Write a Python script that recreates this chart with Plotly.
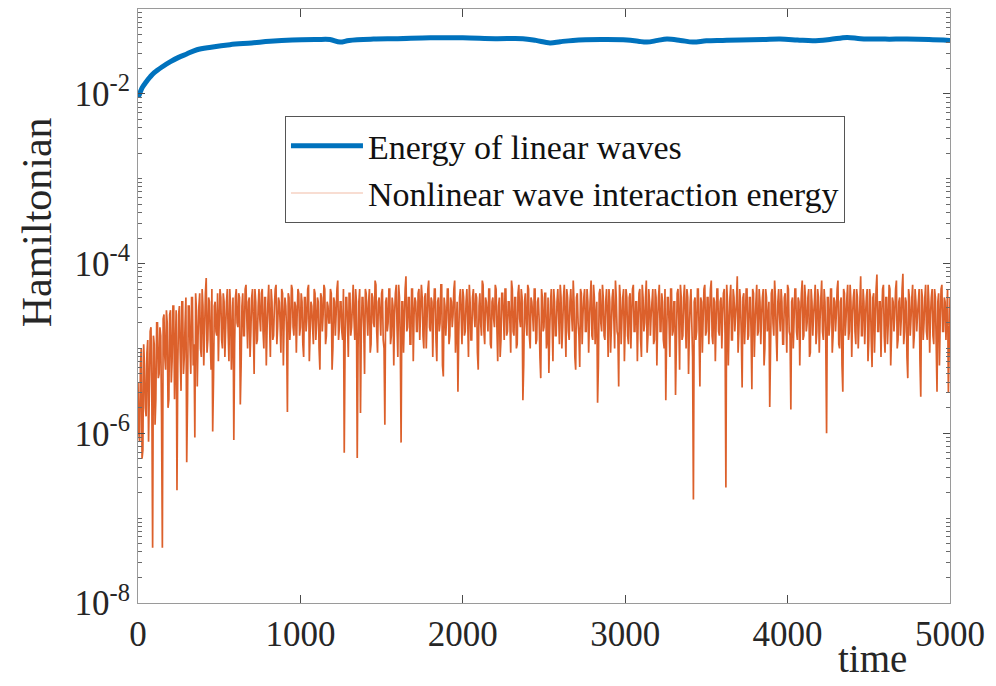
import plotly.graph_objects as go

# ---------------- data ----------------
# Energy of linear waves (blue), time and log10(Hamiltonian)
lin_time = [0, 10, 25, 50, 75, 100, 150, 200, 250, 300, 363, 450, 566, 700, 813, 950,
            1100, 1182, 1244, 1300, 1450, 1600, 1800, 2000, 2200, 2370, 2450, 2537, 2600,
            2678, 2850, 3011, 3080, 3134, 3200, 3257, 3340, 3417, 3500, 3600, 3707, 3850,
            3953, 4060, 4156, 4260, 4366, 4450, 4600, 4735, 4870, 5000]
lin_log = [-2.04, -2.0, -1.93, -1.86, -1.80, -1.75, -1.68, -1.62, -1.57, -1.53, -1.48, -1.45,
           -1.42, -1.40, -1.38, -1.365, -1.36, -1.36, -1.39, -1.37, -1.355, -1.35, -1.34,
           -1.34, -1.35, -1.35, -1.37, -1.40, -1.385, -1.37, -1.36, -1.365, -1.38, -1.39,
           -1.37, -1.355, -1.37, -1.39, -1.375, -1.37, -1.365, -1.36, -1.355, -1.365,
           -1.375, -1.36, -1.335, -1.35, -1.355, -1.355, -1.36, -1.37]

# Nonlinear wave interaction energy (orange), log10 values.
# samples at t = 0, 10, 20, ... 5000
nl_even_t0 = 0
nl_even_dt = 10
nl_even_log = [
    -5.4, -6.1, -5.0, -6.2, -5.2, -5.8, -4.9, -5.5, -4.75, -7.35, -4.95, -5.6, -4.7, -5.3, -4.85, -7.35, -4.6, -5.25, -4.7, -5.6, -4.55, -5.15, -4.5, -5.0, -6.67,
    -4.6, -5.05, -4.45, -5.3, -4.7, -6.34, -4.5, -4.95, -4.4, -5.2, -6.05, -4.55, -4.85, -4.35, -5.1, -4.5, -4.8, -4.17, -4.9, -4.45, -5.25, -5.98, -4.5, -4.8, -4.35,
    -4.7, -4.4, -5.0, -4.45, -4.75, -4.3, -5.15, -4.5, -4.8, -6.08, -4.4, -4.7, -4.35, -5.66, -4.5, -4.85, -4.3, -4.65, -4.45, -5.1, -4.4, -4.7, -4.3, -4.95, -4.5,
    -4.65, -4.35, -4.8, -4.4, -5.2, -4.45, -4.7, -4.3, -4.9, -4.5, -4.25, -4.75, -4.45, -5.05, -4.35, -4.65, -4.5, -5.75, -4.4, -4.7, -4.3, -4.85, -4.5, -4.6, -4.35,
    -4.75, -4.45, -5.1, -4.4, -4.65, -4.25, -4.8, -4.5, -4.95, -4.35, -4.7, -4.45, -5.25, -4.4, -4.6, -4.3, -4.85, -4.5, -4.7, -4.35, -5.0, -4.45, -4.6, -4.2, -4.75,
    -4.45, -4.9, -6.23, -4.4, -4.7, -4.35, -4.85, -4.5, -4.65, -4.3, -6.29, -4.45, -5.76, -4.4, -4.75, -4.3, -4.6, -4.45, -5.05, -4.35, -4.7, -4.2, -4.8, -4.45, -4.6,
    -4.35, -4.9, -5.9, -4.4, -4.7, -4.3, -4.85, -4.5, -4.6, -4.25, -5.1, -4.4, -6.11, -4.45, -4.65, -4.15, -4.75, -4.4, -4.95, -4.3, -4.6, -4.45, -4.8, -4.3, -4.55,
    -4.4, -5.0, -4.35, -4.65, -4.2, -4.8, -4.45, -4.6, -4.3, -5.15, -4.4, -4.7, -4.25, -5.33, -4.5, -4.65, -4.3, -4.85, -4.45, -4.6, -4.2, -4.75, -5.51, -4.4, -4.6,
    -4.3, -4.85, -4.45, -4.65, -4.25, -4.9, -4.4, -4.6, -4.35, -5.05, -4.5, -4.7, -4.2, -4.8, -4.4, -4.6, -4.3, -4.95, -4.45, -4.65, -4.25, -4.75, -4.5, -5.1, -4.35,
    -4.6, -4.3, -4.85, -4.45, -4.7, -4.2, -4.8, -4.4, -5.0, -4.35, -4.65, -4.3, -5.61, -4.45, -4.7, -4.25, -4.85, -4.4, -4.6, -4.3, -4.95, -4.45, -4.65, -5.35, -4.4,
    -4.75, -4.35, -4.9, -5.29, -4.45, -4.7, -4.3, -4.85, -4.45, -4.6, -4.25, -5.0, -4.4, -4.65, -4.3, -4.8, -4.45, -4.6, -4.2, -5.1, -4.4, -4.7, -5.22, -4.35, -4.6,
    -4.3, -4.8, -4.45, -4.65, -4.2, -4.9, -4.4, -4.6, -5.64, -4.35, -4.7, -4.25, -4.85, -4.45, -4.6, -4.3, -5.05, -4.4, -4.65, -4.2, -4.8, -5.45, -4.4, -4.65, -4.3,
    -4.75, -4.4, -4.95, -4.35, -4.6, -4.25, -4.8, -4.45, -4.65, -4.3, -5.1, -4.4, -4.7, -4.2, -4.85, -4.45, -4.6, -4.3, -4.9, -4.4, -4.65, -4.25, -4.8, -4.45, -5.0,
    -5.61, -4.4, -4.7, -4.3, -4.85, -4.45, -5.55, -4.35, -4.65, -4.25, -4.9, -4.4, -4.6, -4.3, -5.3, -4.45, -4.7, -6.78, -4.4, -4.8, -4.3, -5.45, -4.45, -4.65, -4.25,
    -4.8, -4.4, -4.6, -4.2, -4.95, -4.45, -4.7, -4.3, -4.85, -4.4, -4.6, -4.3, -6.64, -4.45, -4.7, -4.25, -4.9, -4.4, -4.6, -4.15, -4.8, -4.45, -5.46, -4.35, -4.65,
    -4.3, -4.85, -4.4, -5.48, -4.35, -4.7, -4.25, -4.8, -4.45, -4.6, -4.3, -5.0, -4.4, -4.65, -5.69, -4.35, -4.7, -4.2, -4.85, -4.45, -4.6, -4.3, -4.95, -4.4, -4.65,
    -4.25, -4.8, -5.72, -4.4, -4.65, -4.3, -4.9, -4.45, -4.6, -4.2, -4.85, -4.4, -4.7, -4.3, -5.05, -4.45, -4.6, -4.25, -4.8, -4.4, -4.65, -4.2, -4.9, -4.45, -6.0,
    -4.4, -4.7, -4.3, -4.85, -4.45, -4.6, -4.2, -5.0, -4.4, -5.51, -4.35, -4.65, -4.25, -4.8, -4.45, -4.6, -4.3, -4.95, -4.4, -4.7, -4.15, -4.85, -4.45, -4.6, -4.3,
    -4.9, -4.4, -5.22, -4.35, -4.65, -4.13, -4.8, -4.45, -4.6, -4.25, -5.05, -4.4, -4.7, -4.3, -4.85, -4.45, -4.6, -4.2, -4.9, -4.4, -4.65, -4.12, -4.8, -4.45, -5.35,
    -4.4, -4.65, -4.25, -4.85, -4.45, -4.6, -4.3, -5.57, -4.4, -4.7, -4.25, -4.9, -4.45, -4.6, -4.3, -4.95, -4.4, -5.51, -4.35, -4.65, -4.25, -4.8, -4.45, -4.6, -5.52,
    -4.4,
]
# samples at t = 5, 15, 25, ... 4995
nl_odd_t0 = 5
nl_odd_dt = 10
nl_odd_log = [
    -6.0, -5.2, -6.3, -4.95, -5.7, -5.05, -6.1, -4.8, -5.5, -4.85, -5.9, -4.7, -5.35, -4.75, -5.8, -4.65, -5.1, -4.55, -5.7, -4.6, -5.4, -4.5, -5.6, -4.55, -5.2,
    -4.5, -5.5, -4.45, -5.1, -4.4, -5.6, -4.5, -5.3, -4.4, -4.95, -4.35, -5.45, -4.5, -5.0, -4.3, -5.2, -4.35, -5.05, -4.4, -4.9, -4.3, -5.35, -4.45, -4.85, -5.15,
    -4.3, -4.9, -4.35, -5.1, -4.45, -4.8, -4.3, -5.25, -4.4, -4.95, -4.3, -4.75, -4.4, -5.2, -4.35, -4.85, -4.25, -5.0, -4.4, -4.8, -4.3, -5.3, -4.45, -4.9, -4.3,
    -4.8, -4.3, -5.0, -4.4, -4.75, -4.25, -5.1, -4.45, -4.85, -4.3, -4.95, -4.4, -4.7, -4.3, -5.2, -4.4, -4.8, -4.35, -4.9, -4.25, -4.75, -4.45, -5.05, -4.3, -4.85,
    -4.35, -4.95, -4.4, -4.8, -4.3, -5.15, -4.45, -4.75, -4.3, -4.9, -4.4, -5.0, -4.35, -4.8, -4.25, -4.95, -4.45, -4.7, -4.3, -5.25, -4.4, -4.85, -4.3, -4.9, -4.45,
    -4.8, -4.3, -4.95, -4.4, -5.1, -4.35, -4.75, -4.25, -4.9, -4.45, -5.0, -4.3, -4.8, -4.4, -5.3, -4.35, -4.85, -4.3, -4.95, -4.4, -4.75, -4.25, -5.05, -4.4, -4.85,
    -4.3, -5.0, -4.45, -4.8, -4.3, -4.95, -4.4, -5.2, -4.35, -4.75, -4.25, -4.9, -4.45, -5.05, -4.3, -4.8, -4.4, -4.95, -4.3, -5.15, -4.4, -4.8, -4.35, -4.9, -4.25,
    -4.85, -4.4, -5.0, -4.3, -4.75, -4.4, -5.1, -4.3, -4.9, -4.45, -4.8, -4.25, -5.2, -4.4, -4.85, -4.3, -4.95, -4.4, -4.75, -4.3, -5.05, -4.45, -4.85, -4.3, -4.95,
    -4.4, -4.8, -4.3, -5.1, -4.45, -4.9, -4.3, -4.75, -4.4, -5.25, -4.35, -4.85, -4.25, -4.95, -4.45, -4.8, -4.3, -5.0, -4.4, -4.75, -4.3, -5.15, -4.4, -4.9, -4.35,
    -4.9, -4.3, -4.8, -4.45, -5.05, -4.3, -4.85, -4.4, -4.95, -4.25, -4.75, -4.4, -5.2, -4.35, -4.85, -4.3, -5.0, -4.45, -4.8, -4.3, -4.9, -4.4, -5.1, -4.3, -4.8,
    -4.35, -5.0, -4.4, -4.8, -4.3, -5.15, -4.45, -4.85, -4.3, -4.95, -4.4, -4.75, -4.25, -5.1, -4.4, -4.9, -4.3, -4.8, -4.45, -5.25, -4.35, -4.85, -4.3, -4.95, -4.4,
    -4.8, -4.3, -5.05, -4.4, -4.85, -4.25, -4.95, -4.45, -5.2, -4.3, -4.8, -4.4, -4.9, -4.3, -5.1, -4.45, -4.75, -4.3, -5.0, -4.4, -4.85, -4.25, -4.95, -4.4, -5.15,
    -4.3, -4.85, -4.4, -5.0, -4.3, -4.8, -4.45, -5.15, -4.35, -4.9, -4.25, -4.8, -4.4, -5.05, -4.3, -4.85, -4.45, -4.95, -4.3, -5.2, -4.4, -4.8, -4.35, -4.9, -4.3,
    -4.85, -4.4, -5.1, -4.3, -4.8, -4.45, -4.95, -4.3, -5.25, -4.4, -4.85, -4.25, -5.0, -4.4, -4.8, -4.3, -5.1, -4.45, -4.9, -4.3, -4.8, -4.4, -5.05, -4.3, -4.85,
    -4.4, -4.95, -4.3, -4.85, -4.4, -5.15, -4.3, -4.8, -4.45, -5.0, -4.35, -4.85, -4.25, -5.2, -4.4, -4.9, -4.3, -4.8, -4.45, -5.05, -4.3, -4.85, -4.4, -4.95, -4.3,
    -4.9, -4.4, -4.8, -4.3, -5.1, -4.45, -4.85, -4.3, -4.95, -4.4, -5.2, -4.3, -4.8, -4.45, -5.0, -4.3, -4.85, -4.4, -5.15, -4.3, -4.8, -4.45, -4.95, -4.35, -5.05,
    -4.3, -4.85, -4.45, -5.0, -4.3, -4.8, -4.4, -5.2, -4.35, -4.9, -4.25, -4.8, -4.4, -5.1, -4.3, -4.85, -4.45, -4.95, -4.3, -5.05, -4.4, -4.8, -4.3, -4.9, -4.4,
    -4.85, -4.3, -5.05, -4.4, -4.8, -4.3, -4.95, -4.45, -5.2, -4.3, -4.85, -4.4, -4.9, -4.25, -5.1, -4.4, -4.8, -4.3, -5.0, -4.45, -4.85, -4.3, -4.95, -4.4, -5.15,
    -4.3, -4.9, -4.4, -5.05, -4.3, -4.8, -4.45, -5.1, -4.3, -4.85, -4.4, -4.95, -4.25, -5.2, -4.4, -4.8, -4.3, -5.0, -4.45, -4.85, -4.3, -4.95, -4.4, -5.1, -4.3,
    -4.85, -4.4, -5.0, -4.3, -4.8, -4.45, -5.15, -4.3, -4.9, -4.4, -4.8, -4.25, -5.05, -4.4, -4.85, -4.3, -4.95, -4.45, -5.2, -4.3, -4.8, -4.4, -4.9, -4.3, -5.0,
]

x_ticks = [0, 1000, 2000, 3000, 4000, 5000]
y_tickvals = [1e-8, 1e-6, 1e-4, 1e-2]
y_ticktext = ["10<sup>-8</sup>", "10<sup>-6</sup>", "10<sup>-4</sup>", "10<sup>-2</sup>"]

series_names = ["Energy of linear waves", "Nonlinear wave interaction energy"]

# ---------------- figure ----------------
FONT = "Liberation Serif, Times New Roman, serif"
pairs = [(nl_even_t0 + i * nl_even_dt, v) for i, v in enumerate(nl_even_log)]
pairs += [(nl_odd_t0 + i * nl_odd_dt, v) for i, v in enumerate(nl_odd_log)]
pairs.sort()
nl_time = [p[0] for p in pairs]
nl_val = [10 ** p[1] for p in pairs]
lin_val = [10 ** v for v in lin_log]

fig = go.Figure()
fig.add_trace(go.Scatter(
    x=nl_time, y=nl_val, mode="lines", showlegend=False,
    line=dict(color="rgba(217,83,25,0.92)", width=1.7, simplify=False),
))
fig.add_trace(go.Scatter(
    x=lin_time, y=lin_val, mode="lines", name=series_names[0], line_shape="spline",
    line=dict(color="#0072BD", width=5),
))
# legend entry for the orange series (pale sample line as in reference)
fig.add_trace(go.Scatter(
    x=[None], y=[None], mode="lines", name=series_names[1],
    line=dict(color="#F8DDD2", width=2),
))

axis_common = dict(
    showline=True, mirror="ticks", linecolor="#9a9a9a", linewidth=1.2,
    ticks="inside", tickcolor="#4a4a4a", showgrid=False, zeroline=False,
    tickfont=dict(family=FONT, size=35, color="#262626"),
)

fig.update_xaxes(range=[0, 5000], tickvals=x_ticks, ticklen=8, **axis_common)
fig.update_yaxes(
    type="log", range=[-8, -1], tickvals=y_tickvals, ticktext=y_ticktext, ticklen=7,
    minor=dict(ticks="inside", ticklen=4, tickcolor="#6a6a6a", dtick="D1", showgrid=False),
    **axis_common,
)

fig.add_annotation(
    text="Hamiltonian", xref="paper", yref="paper", x=-0.125, y=0.64,
    textangle=-90, showarrow=False, xanchor="center", yanchor="middle",
    font=dict(family=FONT, size=42, color="#262626"),
)
fig.add_annotation(
    text="time", xref="paper", yref="paper", x=0.905, y=-0.094,
    showarrow=False, xanchor="center", yanchor="middle",
    font=dict(family=FONT, size=39, color="#262626"),
)

fig.update_layout(
    width=996, height=686,
    margin=dict(l=138, r=46, t=9, b=83),
    paper_bgcolor="white", plot_bgcolor="white",
    legend=dict(
        x=0.181, y=0.8195, xanchor="left", yanchor="top",
        bgcolor="white", bordercolor="#555555", borderwidth=1,
        font=dict(family=FONT, size=34, color="#111111"),
        tracegroupgap=0, itemwidth=72,
    ),
)

fig.write_html("out.html")
